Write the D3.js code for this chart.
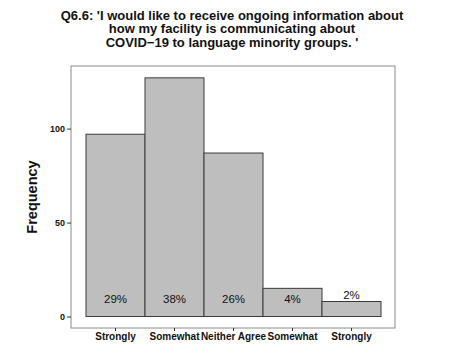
<!DOCTYPE html>
<html>
<head>
<meta charset="utf-8">
<script src="https://cdn.jsdelivr.net/npm/d3@7"></script>
<style>
  body { margin: 0; background: #fff; }
  text { font-family: "Liberation Sans", Arial, sans-serif; }
</style>
</head>
<body>
<svg id="drawing_region"></svg>
<script>
const categories = ["Strongly", "Somewhat", "Neither Agree", "Somewhat", "Strongly"];
const counts = [97, 127, 87, 15, 8];
const pctLabels = ["29%", "38%", "26%", "4%", "2%"];
const yTicks = [0, 50, 100];
const titleLines = [
    "Q6.6: 'I would like to receive ongoing information about",
    "how my facility is communicating about",
    "COVID\u221219 to language minority groups. '"
];

const config = {
    parent: '#drawing_region',
    width: 456,
    height: 354,
    margin: {top: 66, right: 61, bottom: 26, left: 71}
};

const svg = d3.select(config.parent)
    .attr('width', config.width)
    .attr('height', config.height);

const inner_width = config.width - config.margin.left - config.margin.right;
const inner_height = config.height - config.margin.top - config.margin.bottom;

const chart = svg.append('g')
    .attr('transform', `translate(${config.margin.left}, ${config.margin.top})`);

// panel border
chart.append('rect')
    .attr('width', inner_width)
    .attr('height', inner_height)
    .attr('fill', 'white')
    .attr('stroke', '#8a8a8a')
    .attr('stroke-width', 1);

const xscale = d3.scaleBand()
    .domain(d3.range(categories.length))
    .range([15, 15 + 59 * categories.length])
    .padding(0);

const yscale = d3.scaleLinear()
    .domain([-6.1, 133.3])
    .range([inner_height, 0]);

// bars
chart.selectAll('.bar')
    .data(counts)
    .join('rect')
    .attr('class', 'bar')
    .attr('x', (d, i) => xscale(i))
    .attr('y', d => yscale(d))
    .attr('width', xscale.bandwidth())
    .attr('height', d => yscale(0) - yscale(d))
    .attr('fill', '#bebebe')
    .attr('stroke', '#3a3a3a')
    .attr('stroke-width', 1);

// percentage labels: near the bottom, or just above a short bar
chart.selectAll('.pct')
    .data(counts)
    .join('text')
    .attr('class', 'pct')
    .attr('x', (d, i) => xscale(i) + xscale.bandwidth() / 2)
    .attr('y', d => d < 10 ? yscale(d) - 2 : yscale(7))
    .attr('text-anchor', 'middle')
    .attr('font-size', 11.5)
    .attr('fill', '#111')
    .text((d, i) => pctLabels[i]);

// axes
const yaxis = d3.axisLeft(yscale).tickValues(yTicks).tickSize(4).tickPadding(2);
const yaxis_group = chart.append('g').call(yaxis);
yaxis_group.select('.domain').remove();
yaxis_group.selectAll('line').attr('stroke', '#333');
yaxis_group.selectAll('text')
    .attr('font-size', 9)
    .attr('font-weight', 'bold')
    .attr('fill', '#111');

const xaxis = d3.axisBottom(xscale).tickFormat(i => categories[i]).tickSize(3).tickPadding(2);
const xaxis_group = chart.append('g')
    .attr('transform', `translate(0, ${inner_height})`)
    .call(xaxis);
xaxis_group.select('.domain').remove();
xaxis_group.selectAll('line').attr('stroke', '#333');
xaxis_group.selectAll('text')
    .attr('font-size', 10)
    .attr('font-weight', 'bold')
    .attr('fill', '#111');

// y label
svg.append('text')
    .attr('transform', `translate(37, ${config.margin.top + inner_height / 2}) rotate(-90)`)
    .attr('text-anchor', 'middle')
    .attr('font-size', 14.5)
    .attr('font-weight', 'bold')
    .attr('fill', '#111')
    .text('Frequency');

// title
svg.append('g').selectAll('text')
    .data(titleLines)
    .join('text')
    .attr('x', 232)
    .attr('y', (d, i) => 19.5 + i * 13.7)
    .attr('text-anchor', 'middle')
    .attr('font-size', 13)
    .attr('font-weight', 'bold')
    .attr('fill', '#111')
    .text(d => d);
</script>
</body>
</html>
